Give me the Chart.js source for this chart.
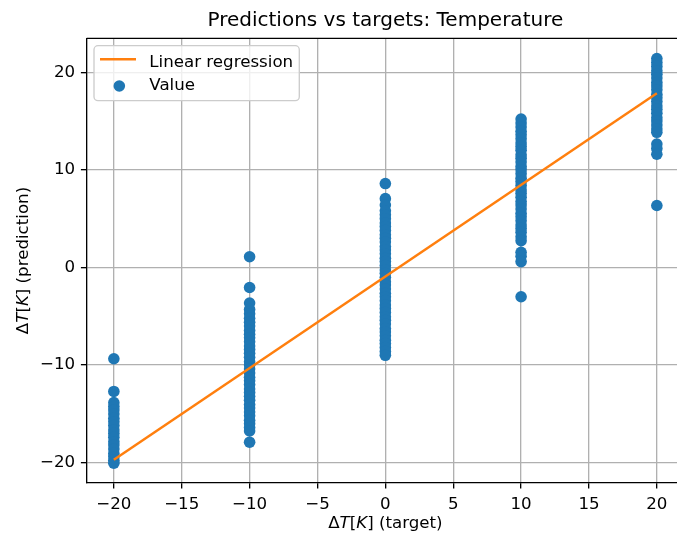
<!DOCTYPE html>
<html>
<head>
<meta charset="utf-8">
<title>Predictions vs targets: Temperature</title>
<script src="https://cdn.jsdelivr.net/npm/chart.js@4.4.1/dist/chart.umd.min.js"></script>
<style>
  html, body { margin: 0; padding: 0; background: #fff; overflow: hidden; }
</style>
</head>
<body>
<canvas id="chart" width="700" height="534"></canvas>
<script>
/* predictions vs targets scatter, regression line drawn on top */

const BLUE   = '#1f77b4';
const ORANGE = '#ff7f0e';
const FONT   = "'DejaVu Sans', sans-serif";

// ── Data ───────────────────────────────────────────────────────────────────────
const TARGETS = [-20, -10, 0, 10, 20];

// predictions for each target
const PRED_M20 = [-9.35, -12.7, -13.85, -14.25, -14.6, -15.0, -15.45, -15.8, -16.2, -16.65,
  -17.0, -17.4, -17.85, -18.2, -18.6, -19.05, -19.4, -19.75, -20.05];
const PRED_M10 = [1.1, -2.05, -3.65, -4.3, -4.75, -5.2, -5.6, -6.0, -6.45, -6.85, -7.2, -7.6,
  -8.05, -8.4, -8.8, -9.2, -9.65, -10.0, -10.4, -10.8, -11.25, -11.6, -12.0, -12.45, -12.8,
  -13.2, -13.6, -14.05, -14.4, -14.8, -15.2, -15.65, -16.0, -16.4, -16.75, -17.9];
const PRED_0 = [8.6, 7.05, 6.4, 5.8, 5.4, 5.0, 4.55, 4.2, 3.8, 3.35, 3.0, 2.6, 2.15, 1.8, 1.4,
  0.95, 0.6, 0.2, -0.25, -0.6, -1.0, -1.45, -1.8, -2.2, -2.65, -3.0, -3.4, -3.85, -4.2, -4.6,
  -5.05, -5.4, -5.8, -6.25, -6.6, -7.0, -7.45, -7.8, -8.2, -8.6, -9.0];
const PRED_10 = [15.2, 14.8, 14.4, 13.95, 13.6, 13.2, 12.75, 12.4, 12.0, 11.55, 11.2, 10.8,
  10.35, 10.0, 9.6, 9.15, 8.8, 8.4, 7.95, 7.6, 7.2, 6.75, 6.4, 6.0, 5.55, 5.2, 4.8, 4.35, 4.0,
  3.6, 3.15, 2.75, 1.55, 1.15, 0.6, -3.0];
const PRED_20 = [21.4, 21.0, 20.6, 20.15, 19.8, 19.4, 18.95, 18.6, 18.2, 17.75, 17.4, 17.0,
  16.55, 16.2, 15.8, 15.35, 15.0, 14.6, 14.2, 13.85, 12.65, 12.2, 11.6, 6.35];
const PREDICTIONS = [PRED_M20, PRED_M10, PRED_0, PRED_10, PRED_20];

// fitted line, end points
const FIT_X = [-20, 20];
const FIT_Y = [-19.7, 17.85];

const X_TICKS = [-20, -15, -10, -5, 0, 5, 10, 15, 20];
const Y_TICKS = [-20, -10, 0, 10, 20];

const TITLE   = 'Predictions vs targets: Temperature';
const X_LABEL = [['Δ', false], ['T', true], ['[', false], ['K', true], ['] (target)', false]];
const Y_LABEL = [['Δ', false], ['T', true], ['[', false], ['K', true], ['] (prediction)', false]];

// ── Helpers ────────────────────────────────────────────────────────────────────
const minus = v => String(v).replace('-', '\u2212');

function drawRich(ctx, parts, cx, cy, size) {
  const fontOf = it => `${it ? 'italic ' : ''}${size}px ${FONT}`;
  let total = 0;
  parts.forEach(([t, it]) => { ctx.font = fontOf(it); total += ctx.measureText(t).width; });
  let x = cx - total / 2;
  parts.forEach(([t, it]) => {
    ctx.font = fontOf(it);
    ctx.fillText(t, x, cy);
    x += ctx.measureText(t).width;
  });
}

// top/right spines
const frame = {
  id: 'frame',
  afterDatasetsDraw(chart) {
    const { ctx, chartArea: a } = chart;
    ctx.save();
    ctx.strokeStyle = '#000';
    ctx.lineWidth = 1.33;
    ctx.beginPath();
    ctx.moveTo(a.left, a.top);
    ctx.lineTo(a.right, a.top);
    ctx.lineTo(a.right, a.bottom);
    ctx.stroke();
    ctx.restore();
  },
};

// matplotlib-like legend box in the upper left
const legendBox = {
  id: 'legendBox',
  afterDraw(chart) {
    const { ctx, chartArea: a } = chart;
    const ds = chart.data.datasets;
    const x = a.left + 7.3, y = a.top + 7.4, w = 205.3, h = 55;
    ctx.save();
    ctx.beginPath();
    ctx.roundRect(x, y, w, h, 4);
    ctx.fillStyle = 'rgba(255,255,255,0.8)';
    ctx.fill();
    ctx.strokeStyle = '#cccccc';
    ctx.lineWidth = 1.33;
    ctx.stroke();

    ctx.strokeStyle = ds[0].borderColor;
    ctx.lineWidth = 2.5;
    ctx.beginPath();
    ctx.moveTo(x + 6, y + 13.6);
    ctx.lineTo(x + 42, y + 13.6);
    ctx.stroke();

    ctx.fillStyle = ds[1].backgroundColor;
    ctx.beginPath();
    ctx.arc(x + 25.3, y + 40.3, 5.8, 0, 2 * Math.PI);
    ctx.fill();

    ctx.fillStyle = '#000';
    ctx.font = `16.67px ${FONT}`;
    ctx.textBaseline = 'alphabetic';
    ctx.textAlign = 'left';
    ctx.fillText(ds[0].label, x + 55.3, y + 21.2);
    ctx.fillText(ds[1].label, x + 55.3, y + 44.4);
    ctx.restore();
  },
};

// axis titles with italic T and K
const axisTitles = {
  id: 'axisTitles',
  afterDraw(chart) {
    const { ctx, chartArea: a } = chart;
    ctx.save();
    ctx.fillStyle = '#000';
    ctx.textAlign = 'left';
    ctx.textBaseline = 'alphabetic';
    drawRich(ctx, X_LABEL, (a.left + a.right) / 2, 528, 16.67);
    ctx.translate(27.5, (a.top + a.bottom) / 2);
    ctx.rotate(-Math.PI / 2);
    drawRich(ctx, Y_LABEL, 0, 0, 16.67);
    ctx.restore();
  },
};

// ── Chart ──────────────────────────────────────────────────────────────────────
const points = TARGETS.flatMap((t, i) => PREDICTIONS[i].map(p => ({ x: t, y: p })));
const fitLine = FIT_X.map((x, i) => ({ x, y: FIT_Y[i] }));

const tickFont = { family: FONT, size: 16.67 };
const gridOpts = {
  color: '#b0b0b0', lineWidth: 1.33,
  tickLength: 5.8, tickColor: '#000', tickWidth: 1.33,
};

new Chart(document.getElementById('chart'), {
  type: 'scatter',
  data: {
    datasets: [
      {
        type: 'line',
        label: 'Linear regression',
        data: fitLine,
        borderColor: ORANGE,
        backgroundColor: ORANGE,
        borderWidth: 2.5,
        pointRadius: 0,
        fill: false,
        tension: 0,
      },
      {
        label: 'Value',
        data: points,
        backgroundColor: BLUE,
        borderColor: BLUE,
        borderWidth: 0,
        pointRadius: 5.8,
      },
    ],
  },
  options: {
    responsive: false,
    animation: false,
    layout: { padding: { left: 0, right: 16, top: 0, bottom: 0 } },
    plugins: {
      legend: { display: false },
      tooltip: { enabled: false },
      title: {
        display: true,
        text: TITLE,
        fullSize: false,
        color: '#000',
        font: { family: FONT, size: 20, weight: 'normal' },
        padding: { top: 9, bottom: 5.3 },
      },
    },
    scales: {
      x: {
        type: 'linear',
        min: -22, max: 22,
        afterBuildTicks: s => { s.ticks = X_TICKS.map(v => ({ value: v })); },
        afterFit: s => { s.height = 51.3; },
        grid: gridOpts,
        border: { color: '#000', width: 1.33 },
        ticks: { color: '#000', font: tickFont, padding: 5.8, maxRotation: 0, autoSkip: false, callback: minus },
      },
      y: {
        type: 'linear',
        min: -22.05, max: 23.48,
        afterBuildTicks: s => { s.ticks = Y_TICKS.map(v => ({ value: v })); },
        afterFit: s => { s.width = 86.7; },
        grid: gridOpts,
        border: { color: '#000', width: 1.33 },
        ticks: { color: '#000', font: tickFont, padding: 5.8, autoSkip: false, callback: minus },
      },
    },
  },
  plugins: [frame, legendBox, axisTitles],
});
</script>
</body>
</html>
